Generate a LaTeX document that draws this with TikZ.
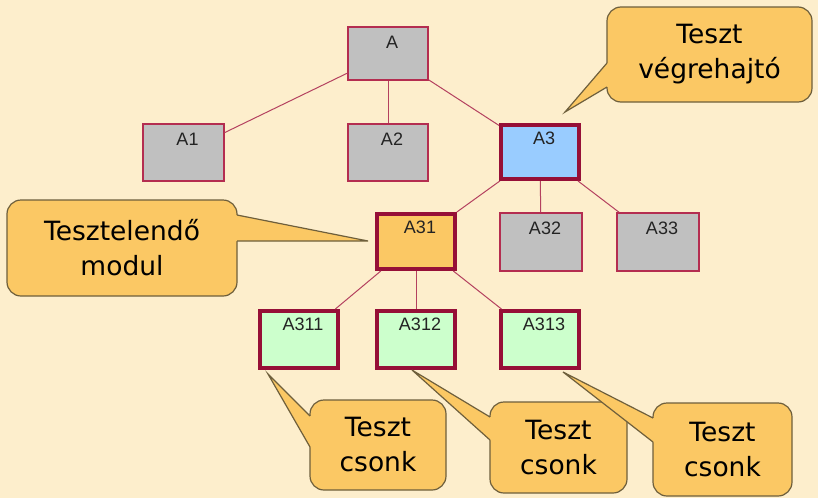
\documentclass[tikz,border=0pt]{standalone}
\usepackage{fontspec}
\setmainfont{Liberation Sans}
\newfontfamily\callfont{DejaVu Sans}
\definecolor{bgc}{RGB}{253,238,204}
\definecolor{grayf}{RGB}{192,192,192}
\definecolor{thinb}{RGB}{180,45,80}
\definecolor{thickb}{RGB}{150,15,55}
\definecolor{linec}{RGB}{180,65,95}
\definecolor{bluef}{RGB}{153,204,255}
\definecolor{orangef}{RGB}{251,200,100}
\definecolor{greenf}{RGB}{204,255,204}
\definecolor{callb}{RGB}{110,95,60}
\definecolor{labc}{RGB}{35,35,35}
\tikzset{
 box/.style={rectangle, draw=thinb, line width=1.1pt, fill=grayf, inner sep=0pt},
 thickbox/.style={box, draw=thickb, line width=4pt},
 lab/.style={anchor=north, yshift=-9.5pt, xshift=4pt, inner sep=0pt, font=\fontsize{18}{21}\selectfont, text=labc},
 conn/.style={draw=linec, line width=1pt},
 callout/.style={rectangle, rounded corners=14pt, draw=callb, line width=1.2pt, fill=orangef, align=center, inner sep=0pt, font=\callfont\fontsize{26.5}{35}\selectfont, text=black},
 ptrline/.style={draw=callb, line width=1.2pt, line join=miter},
}
\begin{document}
\begin{tikzpicture}[x=1pt,y=-1pt]
\useasboundingbox (0,0) rectangle (818,498);
\fill[bgc] (0,0) rectangle (818,498);

% tree boxes
\node[box, minimum width=80pt, minimum height=53pt, label={[lab]north:A}] (A) at (388,53.5) {};
\node[box, minimum width=81pt, minimum height=57pt, label={[lab]north:A1}] (A1) at (183.5,152.5) {};
\node[box, minimum width=80pt, minimum height=57pt, label={[lab]north:A2}] (A2) at (388,152.5) {};
\node[thickbox, fill=bluef, minimum width=78pt, minimum height=54pt, label={[lab,yshift=1pt]north:A3}] (A3) at (540,152) {};
\node[thickbox, fill=orangef, minimum width=78pt, minimum height=55pt, label={[lab,yshift=1pt]north:A31}] (A31) at (416,241.5) {};
\node[box, minimum width=82pt, minimum height=58pt, label={[lab]north:A32}] (A32) at (541,242) {};
\node[box, minimum width=82pt, minimum height=58pt, label={[lab]north:A33}] (A33) at (658,242) {};
\node[thickbox, fill=greenf, minimum width=78pt, minimum height=57pt, label={[lab,yshift=1pt]north:A311}] (A311) at (299,339.5) {};
\node[thickbox, fill=greenf, minimum width=78pt, minimum height=57pt, label={[lab,yshift=1pt]north:A312}] (A312) at (416,339.5) {};
\node[thickbox, fill=greenf, minimum width=78pt, minimum height=57pt, label={[lab,yshift=1pt]north:A313}] (A313) at (540,339.5) {};

% connectors
\draw[conn] (A) -- (A1);
\draw[conn] (A) -- (A2);
\draw[conn] (A) -- (A3);
\draw[conn] (A3) -- (A31);
\draw[conn] (A3) -- (A32);
\draw[conn] (A3) -- (A33);
\draw[conn] (A31) -- (A311);
\draw[conn] (A31) -- (A312);
\draw[conn] (A31) -- (A313);

% callouts
\node[callout, minimum width=205pt, minimum height=95pt] (C1) at (709.5,54.5) {Teszt\\végrehajtó};
\node[callout, minimum width=230pt, minimum height=96pt] (C2) at (122,248) {Tesztelendő\\modul};
\node[callout, minimum width=136pt, minimum height=90pt] (C3) at (378,445) {Teszt\\csonk};
\node[callout, minimum width=137pt, minimum height=91pt] (C4) at (558.5,447.5) {Teszt\\csonk};
\node[callout, minimum width=139pt, minimum height=93pt] (C5) at (722.5,449.5) {Teszt\\csonk};

% pointers
\coordinate (t1) at (565,112);
\coordinate (b1a) at (607,63); \coordinate (b1b) at (607,87);
\fill[orangef] (609.5,63) -- (606.6,63) -- (t1) -- (606.6,87) -- (609.5,87) -- cycle;
\draw[ptrline] (b1a) -- (t1) -- (b1b);

\coordinate (t2) at (368,241);
\coordinate (b2a) at (237,215); \coordinate (b2b) at (237,241);
\fill[orangef] (234.5,215) -- (237.4,215) -- (t2) -- (237.4,241) -- (234.5,241) -- cycle;
\draw[ptrline] (b2a) -- (t2) -- (b2b);

\coordinate (t3) at (268,374);
\coordinate (b3a) at (310,416); \coordinate (b3b) at (310,447);
\fill[orangef] (312.5,416) -- (309.6,416) -- (t3) -- (309.6,447) -- (312.5,447) -- cycle;
\draw[ptrline] (b3a) -- (t3) -- (b3b);

\coordinate (t4) at (412,370);
\coordinate (b4a) at (490,417); \coordinate (b4b) at (490,440);
\fill[orangef] (492.5,417) -- (489.6,417) -- (t4) -- (489.6,440) -- (492.5,440) -- cycle;
\draw[ptrline] (b4a) -- (t4) -- (b4b);

\coordinate (t5) at (563,372);
\coordinate (b5a) at (653,418); \coordinate (b5b) at (653,442);
\fill[orangef] (655.5,418) -- (652.6,418) -- (t5) -- (652.6,442) -- (655.5,442) -- cycle;
\draw[ptrline] (b5a) -- (t5) -- (b5b);
\end{tikzpicture}
\end{document}
